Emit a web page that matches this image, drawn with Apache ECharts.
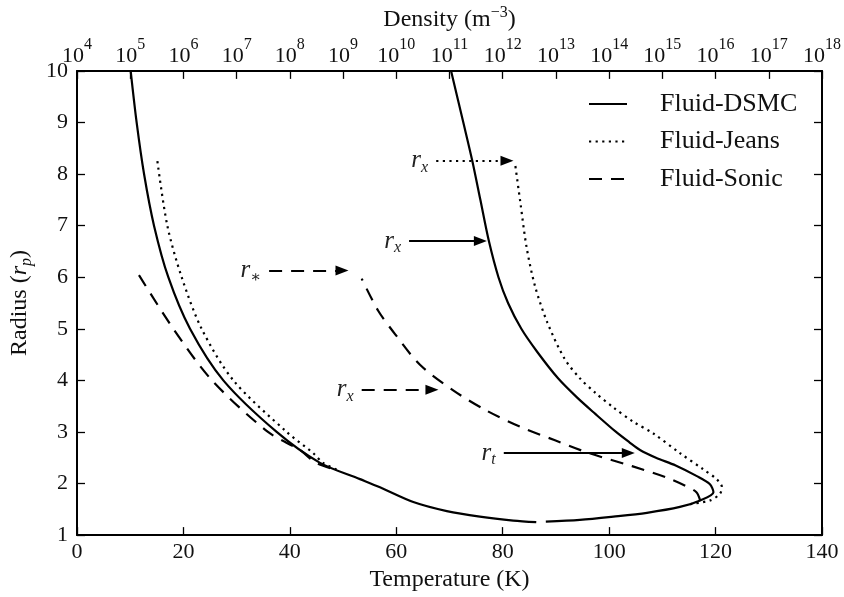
<!DOCTYPE html>
<html>
<head>
<meta charset="utf-8">
<script src="https://cdn.jsdelivr.net/npm/echarts@6/dist/echarts.min.js"></script>
<style>
html,body{margin:0;padding:0;background:#fff;}
#chart{width:844px;height:597px;}
</style>
</head>
<body>
<div id="chart"></div>
<script>
// ---------- data ----------
// Temperature profiles, bottom axis: [temperature (K), radius (r_p)]
const dsmcTemperature = [
  [88.1,1.262],[94.5,1.294],[100.8,1.357],[107.1,1.432],[113.3,1.546],[117.1,1.673],
  [119.6,1.831],[118.9,1.99],[116.4,2.148],[112.5,2.35],[108.8,2.50],[105.8,2.65],
  [103.8,2.80],[101.3,3.0],[97.4,3.35],[94.0,3.665],[90.4,4.04],[86.5,4.55],[83.5,5.0],
  [81.0,5.5],[79.2,6.0],[77.4,6.70],[75.8,7.5],[74.3,8.25],[72.6,9.0],[70.3,10.0]
];
const jeansTemperature = [
  [115.2,1.60],[119.0,1.673],[120.8,1.80],[121.2,1.926],[120.2,2.084],[117.7,2.274],
  [113.3,2.59],[108.3,2.97],[104.5,3.2],[100.8,3.475],[97.5,3.75],[94.5,4.04],
  [91.6,4.424],[88.4,5.119],[86.1,5.815],[84.5,6.573],[83.3,7.459],[82.3,8.218]
];
const sonicTemperature = [
  [117.1,1.673],[116.4,1.831],[114.3,1.958],[110.8,2.116],[104.3,2.337],[96.2,2.59],
  [89.7,2.843],[83.4,3.096],[77.0,3.412],[70.9,3.792],[64.5,4.297],[60.0,4.866],
  [56.6,5.35],[53.5,5.973]
];
// Density profiles, top axis: [number density (m^-3), radius (r_p)]
const dsmcDensity = [
  [1.02e5,10.0],[1.32e5,9.0],[1.82e5,8.0],[2.80e5,7.0],[5.20e5,6.0],[1.33e6,5.0],
  [5.62e6,4.0],[5.65e7,3.0],[3.69e8,2.4],[2.08e9,2.085],[4.94e9,1.926],[2.09e10,1.641],
  [8.91e10,1.465],[3.72e11,1.357],[1.58e12,1.281],[4.27e12,1.25]
];
const jeansDensity = [
  [3.24e5,8.25],[4.98e5,7.0],[9.27e5,6.0],[2.20e6,5.0],[8.67e6,4.0],[8.71e7,3.0],
  [2.75e8,2.59],[4.2e8,2.4],[8.4e8,2.25]
];
const sonicDensity = [
  [1.46e5,6.04],[6.46e5,5.0],[3.44e6,4.0],[3.88e7,3.0],[1.55e8,2.65],[3.09e8,2.4],[8.4e8,2.25]
];
// Annotation arrows: [label subscript, T start, T end, radius]
const dsmcArrows  = [['x',62.4,75.8,6.70],['t',80.2,103.6,2.59]];
const jeansArrows = [['x',67.5,80.8,8.26]];
const sonicArrows = [['\u2217',36.1,49.8,6.13],['x',53.5,66.7,3.82]];

const seriesNames = ['Fluid-DSMC','Fluid-Jeans','Fluid-Sonic'];

// ---------- styling ----------
const FONT = '"Liberation Serif","DejaVu Serif",serif';
const INK = '#000';
const DASH = [13,9];
const DOT = [2.2,4.4];
const LW = 2.2;

function arrowData(list){
  return list.map(a => [
    {name:a[0], coord:[a[1],a[3]]},
    {coord:[a[2],a[3]]}
  ]);
}
function markLine(list, type){
  return {
    silent:true,
    animation:false,
    symbol:['none','triangle'],
    symbolSize:[10,13],
    lineStyle:{color:INK,width:LW,type:type,cap:'butt'},
    label:{
      show:true, position:'start', distance:8,
      formatter:p => '{r|r}{s|' + p.name + '}',
      rich:{
        r:{fontFamily:FONT,fontStyle:'italic',fontSize:25,color:'#222',lineHeight:30,verticalAlign:'middle'},
        s:{fontFamily:FONT,fontStyle:'italic',fontSize:16,color:'#222',verticalAlign:'bottom',lineHeight:30}
      }
    },
    emphasis:{disabled:true},
    data:arrowData(list)
  };
}
function lineSeries(name, data, xIdx, type, arrows){
  const s = {
    name:name, type:'line', xAxisIndex:xIdx, yAxisIndex:0,
    data:data, symbol:'none', showSymbol:false,
    smooth:0.3,
    color:INK,
    lineStyle:{color:INK,width:LW,type:type,cap:'butt'},
    emphasis:{disabled:true},
    animation:false, z:3
  };
  if (arrows) s.markLine = markLine(arrows, type);
  return s;
}

const tickLabel = {fontFamily:FONT,fontSize:22,color:'#111'};

const option = {
  animation:false,
  backgroundColor:'#fff',
  textStyle:{fontFamily:FONT,color:INK},
  grid:{left:77,right:22,top:66,bottom:56.5,containLabel:false},
  legend:{
    orient:'vertical', left:583, top:86, itemWidth:38, itemHeight:14, itemGap:11.5,
    selectedMode:false,
    data:seriesNames,
    itemStyle:{opacity:0},
    textStyle:{fontFamily:FONT,fontSize:26,color:'#111',padding:[0,0,0,28]}
  },
  xAxis:[
    {
      type:'value', position:'bottom', min:0, max:140, interval:20,
      name:'Temperature (K)', nameLocation:'middle', nameGap:29,
      nameTextStyle:{fontFamily:FONT,fontSize:24,color:'#111'},
      axisLine:{show:true,onZero:false,lineStyle:{color:INK,width:2}},
      axisTick:{show:true,inside:true,length:8,lineStyle:{color:INK,width:1.3}},
      axisLabel:Object.assign({margin:6},tickLabel),
      splitLine:{show:false}
    },
    {
      type:'log', position:'top', min:1e4, max:1e18, logBase:10, interval:1,
      name:'Density (m{s|\u22123})', nameLocation:'middle', nameGap:32,
      nameTextStyle:{fontFamily:FONT,fontSize:24,color:'#111',
        rich:{s:{fontFamily:FONT,fontSize:16,color:'#111',verticalAlign:'top',lineHeight:30}}},
      axisLine:{show:true,onZero:false,lineStyle:{color:INK,width:2}},
      axisTick:{show:true,inside:true,length:8,lineStyle:{color:INK,width:1.3}},
      minorTick:{show:false},
      axisLabel:{
        margin:4,
        formatter:v => '{b|10}{s|' + Math.round(Math.log10(v)) + '}',
        rich:{
          b:{fontFamily:FONT,fontSize:22,color:'#111',lineHeight:30,verticalAlign:'bottom'},
          s:{fontFamily:FONT,fontSize:16,color:'#111',verticalAlign:'top',lineHeight:30}
        }
      },
      splitLine:{show:false}
    }
  ],
  yAxis:[
    {
      type:'value', position:'left', min:1, max:10, interval:1,
      name:'Radius ({i|r}{s|p})', nameLocation:'middle', nameGap:34, nameRotate:90,
      nameTextStyle:{fontFamily:FONT,fontSize:24,color:'#111',
        rich:{
          i:{fontFamily:FONT,fontStyle:'italic',fontSize:24,color:'#111',lineHeight:30},
          s:{fontFamily:FONT,fontStyle:'italic',fontSize:16,color:'#111',verticalAlign:'bottom',lineHeight:30}
        }},
      axisLine:{show:true,onZero:false,lineStyle:{color:INK,width:2}},
      axisTick:{show:true,inside:true,length:8,lineStyle:{color:INK,width:1.3}},
      axisLabel:Object.assign({margin:9},tickLabel),
      splitLine:{show:false}
    },
    {
      type:'value', position:'right', min:1, max:10, interval:1,
      axisLine:{show:true,onZero:false,lineStyle:{color:INK,width:2}},
      axisTick:{show:true,inside:true,length:8,lineStyle:{color:INK,width:1.3}},
      axisLabel:{show:false},
      splitLine:{show:false}
    }
  ],
  series:[
    lineSeries('Fluid-DSMC', dsmcTemperature, 0, 'solid', dsmcArrows),
    lineSeries('Fluid-Jeans', jeansTemperature, 0, DOT, jeansArrows),
    lineSeries('Fluid-Sonic', sonicTemperature, 0, DASH, sonicArrows),
    lineSeries('Fluid-DSMC', dsmcDensity, 1, 'solid', null),
    lineSeries('Fluid-Jeans', jeansDensity, 1, DOT, null),
    lineSeries('Fluid-Sonic', sonicDensity, 1, DASH, null)
  ]
};

const chart = echarts.init(document.getElementById('chart'), null, {renderer:'canvas'});
chart.setOption(option);
</script>
</body>
</html>
